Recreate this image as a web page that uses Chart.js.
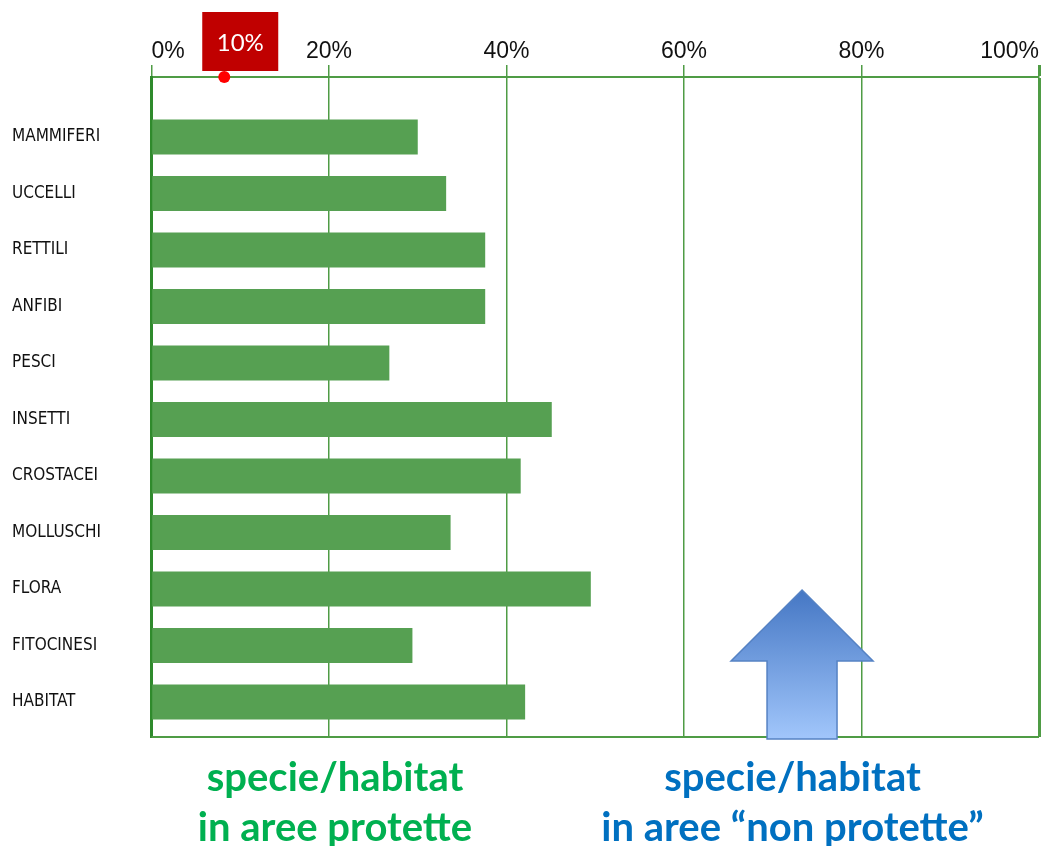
<!DOCTYPE html>
<html>
<head>
<meta charset="utf-8">
<title>Specie/habitat in aree protette</title>
<script src="https://cdn.jsdelivr.net/npm/chart.js@4/dist/chart.umd.min.js"></script>
<style>
    body { margin: 0; background: #fff; }
    #wrap { position: relative; width: 1041px; height: 846px; }
    .caption {
        position: absolute;
        font-family: Lato, "Open Sans", sans-serif;
        font-weight: bold;
        font-size: 40px;
        line-height: 50px;
        text-align: center;
        white-space: nowrap;
    }
    #cap-green { left: 140px; width: 390px; top: 751px; color: #00b050; }
    #cap-blue { left: 590px; width: 405px; top: 751px; color: #0070c0; }
</style>
</head>
<body>
<div id="wrap">
    <canvas id="chart" width="1041" height="846"></canvas>
    <div class="caption" id="cap-green">specie/habitat<br>in aree protette</div>
    <div class="caption" id="cap-blue">specie/habitat<br>in aree &ldquo;non protette&rdquo;</div>
</div>
<script>
// categories top to bottom
const categories = ['MAMMIFERI', 'UCCELLI', 'RETTILI', 'ANFIBI', 'PESCI', 'INSETTI',
    'CROSTACEI', 'MOLLUSCHI', 'FLORA', 'FITOCINESI', 'HABITAT'];
// share in protected areas (%)
const protectedShare = [30.0, 33.2, 37.6, 37.6, 26.8, 45.1, 41.6, 33.7, 49.5, 29.4, 42.1];
const xTicks = [0, 20, 40, 60, 80, 100];
// red marker on the top axis
const markerLabel = '10%';
const markerLabelValue = 10;
const markerDotValue = 8.2;
// blue arrow position on the x scale
const arrowValue = 73.3;

const gridGreen = '#4f9c45';
const axisGreen = '#2f8a2c';

// draws the bottom frame line, the red marker and the blue arrow
const extrasPlugin = {
    id: 'extras',
    afterDraw(chart) {
        const ctx = chart.ctx;
        const area = chart.chartArea;
        const x = chart.scales.x;

        // bottom frame
        ctx.save();
        ctx.strokeStyle = gridGreen;
        ctx.lineWidth = 2;
        ctx.beginPath();
        ctx.moveTo(area.left, area.bottom);
        ctx.lineTo(area.right, area.bottom);
        ctx.stroke();

        // red label box
        const bx = x.getPixelForValue(markerLabelValue);
        ctx.fillStyle = '#c00000';
        ctx.fillRect(bx - 38, 12, 76, 59);
        ctx.fillStyle = '#ffffff';
        ctx.font = '24px Lato, "Open Sans", sans-serif';
        ctx.textAlign = 'center';
        ctx.textBaseline = 'middle';
        ctx.fillText(markerLabel, bx, 43);

        // red dot
        ctx.fillStyle = '#ff0000';
        ctx.beginPath();
        ctx.arc(x.getPixelForValue(markerDotValue), area.top, 6, 0, Math.PI * 2);
        ctx.fill();

        // blue arrow
        const ax = x.getPixelForValue(arrowValue);
        const tipY = area.bottom - 147;
        const headY = area.bottom - 76;
        const baseY = area.bottom + 2;
        const grad = ctx.createLinearGradient(0, tipY, 0, baseY);
        grad.addColorStop(0, '#4577c4');
        grad.addColorStop(1, '#a1c6fb');
        ctx.fillStyle = grad;
        ctx.strokeStyle = '#5582c4';
        ctx.lineWidth = 1.5;
        ctx.beginPath();
        ctx.moveTo(ax, tipY);
        ctx.lineTo(ax + 71, headY);
        ctx.lineTo(ax + 35, headY);
        ctx.lineTo(ax + 35, baseY);
        ctx.lineTo(ax - 35, baseY);
        ctx.lineTo(ax - 35, headY);
        ctx.lineTo(ax - 71, headY);
        ctx.closePath();
        ctx.fill();
        ctx.stroke();
        ctx.restore();
    }
};

const ctx = document.getElementById('chart').getContext('2d');
window.myChart = new Chart(ctx, {
    type: 'bar',
    data: {
        datasets: [{
            label: 'Specie/habitat in aree protette',
            data: protectedShare.map((v, i) => ({ x: v, y: i })),
            backgroundColor: '#56a052',
            borderWidth: 0,
            categoryPercentage: 1,
            barPercentage: 0.62
        }]
    },
    options: {
        indexAxis: 'y',
        responsive: false,
        animation: false,
        layout: { padding: { left: 12, right: 2, top: 0, bottom: 109 } },
        scales: {
            x: {
                type: 'linear',
                position: 'top',
                min: 0,
                max: 100,
                afterBuildTicks: scale => { scale.ticks = xTicks.map(v => ({ value: v })); },
                afterFit: scale => { scale.height = 77; },
                ticks: {
                    align: 'inner',
                    padding: 0,
                    color: '#111',
                    font: { family: '"Liberation Sans", Arial, sans-serif', size: 23 },
                    callback: v => v + '%'
                },
                grid: {
                    color: gridGreen,
                    lineWidth: c => (c.tick && c.tick.value === 100 ? 3 : 1.5),
                    tickLength: 12
                },
                border: { color: gridGreen, width: 2 }
            },
            y: {
                type: 'linear',
                reverse: true,
                offset: false,
                min: -1.06,
                max: 10.62,
                afterBuildTicks: scale => { scale.ticks = categories.map((c, i) => ({ value: i })); },
                afterFit: scale => { scale.width = 139.5; },
                ticks: {
                    autoSkip: false,
                    crossAlign: 'far',
                    color: '#111',
                    font: { family: '"DejaVu Sans Condensed", "DejaVu Sans", sans-serif', size: 17 },
                    callback: v => (Number.isInteger(v) && categories[v] ? categories[v] : '')
                },
                grid: { display: false },
                border: { color: axisGreen, width: 3 }
            }
        },
        plugins: {
            legend: { display: false },
            tooltip: { enabled: false }
        }
    },
    plugins: [extrasPlugin]
});
</script>
</body>
</html>
